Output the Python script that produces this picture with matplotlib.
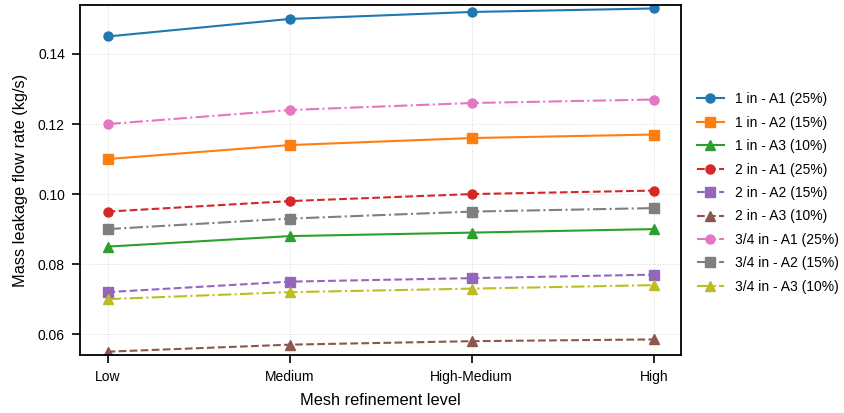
import matplotlib
matplotlib.use("Agg")
import matplotlib.pyplot as plt

plt.rcParams["font.family"] = ["Liberation Sans", "DejaVu Sans"]

levels = ["Low", "Medium", "High-Medium", "High"]

labels = [
    "1 in - A1 (25%)", "1 in - A2 (15%)", "1 in - A3 (10%)",
    "2 in - A1 (25%)", "2 in - A2 (15%)", "2 in - A3 (10%)",
    "3/4 in - A1 (25%)", "3/4 in - A2 (15%)", "3/4 in - A3 (10%)",
]

in1_a1 = [0.145, 0.150, 0.152, 0.153]
in1_a2 = [0.110, 0.114, 0.116, 0.117]
in1_a3 = [0.085, 0.088, 0.089, 0.090]
in2_a1 = [0.095, 0.098, 0.100, 0.101]
in2_a2 = [0.072, 0.075, 0.076, 0.077]
in2_a3 = [0.055, 0.057, 0.058, 0.0585]
in34_a1 = [0.120, 0.124, 0.126, 0.127]
in34_a2 = [0.090, 0.093, 0.095, 0.096]
in34_a3 = [0.070, 0.072, 0.073, 0.074]

series = [in1_a1, in1_a2, in1_a3, in2_a1, in2_a2, in2_a3, in34_a1, in34_a2, in34_a3]
markers = ["o", "s", "^"] * 3
styles = ["-"] * 3 + ["--"] * 3 + ["-."] * 3

fig, ax = plt.subplots(figsize=(8.45, 4.13), dpi=100)
x = range(len(levels))
for i, (vals, lab) in enumerate(zip(series, labels)):
    ax.plot(x, vals, linestyle=styles[i], marker=markers[i], markersize=6.5,
            linewidth=1.5, color=f"C{i}", label=lab)

ax.set_xticks(list(x))
ax.set_xticklabels(levels)
ax.set_xlim(-0.15, 3.15)
ax.set_ylim(0.054, 0.154)
ax.set_yticks([0.06, 0.08, 0.10, 0.12, 0.14])
ax.set_xlabel("Mesh refinement level", fontsize=11.8, labelpad=6)
ax.set_ylabel("Mass leakage flow rate (kg/s)", fontsize=11.8, labelpad=7)
ax.tick_params(labelsize=10, width=1.2, length=6, pad=5)
for s in ax.spines.values():
    s.set_linewidth(1.3)
ax.grid(True, linestyle=":", color="#d0d0d0", linewidth=0.7, alpha=0.8)
ax.legend(loc="center left", bbox_to_anchor=(1.005, 0.463), frameon=False,
          fontsize=10, labelspacing=0.68)

fig.subplots_adjust(left=0.095, right=0.806, top=0.988, bottom=0.14)
fig.savefig("out.png", dpi=100)
